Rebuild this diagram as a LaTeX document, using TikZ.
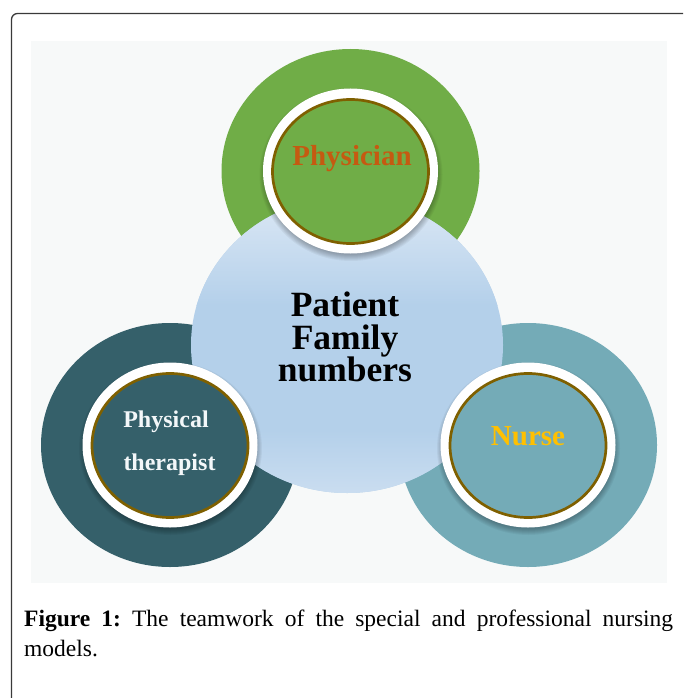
\documentclass[tikz,border=0pt]{standalone}
\usepackage{fontspec}
\setmainfont{Liberation Serif}
\definecolor{panelgrey}{HTML}{F7F9F9}
\definecolor{framegrey}{HTML}{3A3A3A}
\definecolor{leafgreen}{HTML}{70AD47}
\definecolor{deepteal}{HTML}{35606A}
\definecolor{softteal}{HTML}{74ABB7}
\definecolor{rimbrown}{HTML}{7F6000}
\definecolor{blueTop}{HTML}{DCE8F5}
\definecolor{blueMid}{HTML}{B4D0EA}
\definecolor{blueLow}{HTML}{CADDF0}
\definecolor{rustorange}{HTML}{C55A11}
\definecolor{goldyellow}{HTML}{FFC000}
\definecolor{paletext}{HTML}{F3F7F9}
\begin{document}
\begin{tikzpicture}[x=1pt,y=-1pt,
  outerdisc/.style={fill=#1},
  whitering/.style={fill=white},
  innerdisc/.style={fill=#1, draw=rimbrown, line width=2.7pt},
  lbl/.style={font=\bfseries\fontsize{#1}{#1}\selectfont, inner sep=0pt, anchor=base,
              text height=0.69em, text depth=0.2em},
]
\useasboundingbox (0,0) rectangle (683,698);

% outer page frame, cut by the page edge
\begin{scope}
  \clip (0,0) rectangle (683,698);
  \draw[framegrey, line width=1.3pt, rounded corners=6pt] (11.5,13.5) rectangle (689,720);
\end{scope}

% light panel behind the diagram
\fill[panelgrey] (31,41) rectangle (667,583);

% centres of the discs
\coordinate (phys) at (350.5,171);
\coordinate (pt) at (170,445);
\coordinate (nurse) at (528,445);
\coordinate (ctr) at (347,345);

% large outer discs
\fill[outerdisc=leafgreen] (phys) ellipse [x radius=129, y radius=122];
\fill[outerdisc=deepteal] (pt) ellipse [x radius=129, y radius=122];
\fill[outerdisc=softteal] (nurse) ellipse [x radius=129, y radius=122];

% central disc with a soft vertical gradient
\begin{scope}
  \clip (ctr) ellipse [x radius=156, y radius=148];
  \fill[blueMid] (180,190) rectangle (520,500);
  \shade[top color=blueTop, bottom color=blueMid] (180,196) rectangle (520,305);
  \shade[top color=blueMid, bottom color=blueLow] (180,430) rectangle (520,494);
\end{scope}

% soft shadows under the white rings
\foreach \c in {phys,pt,nurse}{
  \foreach \k in {1,...,7}{
    \fill[black, opacity=0.045] ([shift={(0.5,3.5)}]\c) ellipse [x radius={87.5+5-\k}, y radius={82.5+5-\k}];
  }
}

% white rings and inner bordered discs
\fill[whitering] (phys) ellipse [x radius=87.5, y radius=82.5];
\fill[whitering] (pt) ellipse [x radius=87.5, y radius=82.5];
\fill[whitering] (nurse) ellipse [x radius=87.5, y radius=82.5];
\filldraw[innerdisc=leafgreen] ([yshift=-0.5]phys) ellipse [x radius=78, y radius=72];
\filldraw[innerdisc=deepteal] ([yshift=-0.5]pt) ellipse [x radius=78, y radius=72];
\filldraw[innerdisc=softteal] ([yshift=-0.5]nurse) ellipse [x radius=78, y radius=72];

% labels
\node[lbl=29, text=rustorange] (physlabel) at (352,165) {Physician};
\node[lbl=29, text=goldyellow] (nurselabel) at (528,445) {Nurse};
\node[lbl=24, text=paletext] (ptlabel1) at (166,427.7) {Physical};
\node[lbl=24, text=paletext] (ptlabel2) at (169.5,470) {therapist};
\node[inner sep=0pt, anchor=base, text=black] (ctrlabel) at (345,316.7)
  {\parbox[t]{200pt}{\centering\bfseries\fontsize{35.5}{32.5}\selectfont Patient\\Family\\numbers}};

% caption
\node[inner sep=0pt, anchor=base west] (caption) at (24,626.7)
  {\parbox[t]{649pt}{\frenchspacing\fontsize{23.5}{30}\selectfont\textbf{Figure 1:} The teamwork of the special and professional nursing\linebreak models.}};
\end{tikzpicture}
\end{document}
